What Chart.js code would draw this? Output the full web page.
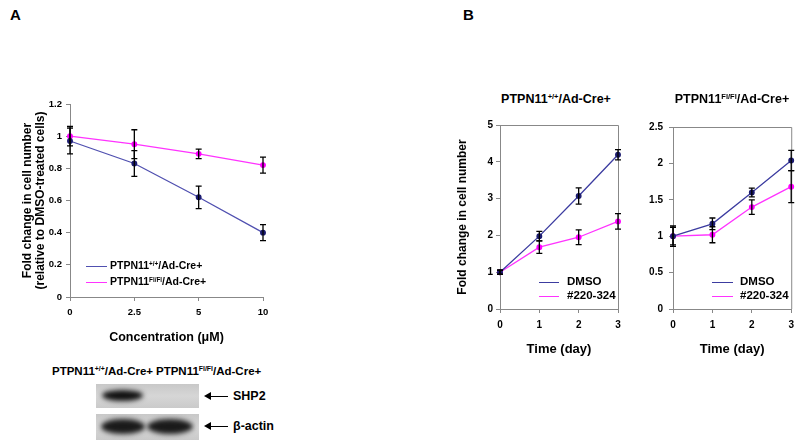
<!DOCTYPE html>
<html>
<head>
<meta charset="utf-8">
<script src="https://cdn.jsdelivr.net/npm/chart.js"></script>
<style>
  body { margin: 0; width: 800px; height: 446px; background: #fff; position: relative; overflow: hidden;
         font-family: 'Liberation Sans', Arial, sans-serif; font-weight: bold; color: #000; }
  canvas, .abs { position: absolute; }
  .abs { white-space: nowrap; line-height: 1; }
  sup { font-size: 0.6em; vertical-align: 0; position: relative; top: -0.55em; }
  .panel { font-size: 15px; }
  .ptitle { font-size: 12.5px; transform: translateX(-50%); }
  .leg { font-size: 11.5px; }
  .leg i { position: absolute; height: 0; border-top: 1.5px solid; }
  .blotlbl { font-size: 11.5px; }
  .box { position: absolute; background: linear-gradient(#c8c8c8, #d6d6d6 50%, #cacaca); overflow: hidden; }
  .band { position: absolute; border-radius: 50%; background: #111; filter: blur(2.5px); }
  .arrow { position: absolute; height: 0; border-top: 1.5px solid #000; }
  .arrow:before { content: ''; position: absolute; left: -2px; top: -5.5px; border-right: 7px solid #000;
                  border-top: 4.5px solid transparent; border-bottom: 4.5px solid transparent; }
  .marker { font-size: 12.5px; }
</style>
</head>
<body>

<div class="abs panel" style="left:10px; top:7px;">A</div>
<div class="abs panel" style="left:463px; top:7px;">B</div>

<canvas id="chartA" width="300" height="265" style="left:0; top:90px;"></canvas>
<canvas id="chartB1" width="200" height="245" style="left:430px; top:115px;"></canvas>
<canvas id="chartB2" width="190" height="245" style="left:610px; top:115px;"></canvas>

<div class="abs ptitle" style="left:556px; top:93px;">PTPN11<sup>+/+</sup>/Ad-Cre+</div>
<div class="abs ptitle" style="left:732px; top:93px;">PTPN11<sup>Fl/Fl</sup>/Ad-Cre+</div>

<!-- legends -->
<div class="abs leg" style="left:0; top:0; font-size:10.5px;">
  <i style="left:86px; top:266px; width:21px; border-color:#5050b0;"></i>
  <span class="abs" style="left:110px; top:260px;">PTPN11<sup>+/+</sup>/Ad-Cre+</span>
  <i style="left:86px; top:282px; width:21px; border-color:#ff33ff;"></i>
  <span class="abs" style="left:110px; top:276px;">PTPN11<sup>Fl/Fl</sup>/Ad-Cre+</span>
</div>
<div class="abs leg" style="left:0; top:0;">
  <i style="left:539px; top:282px; width:20px; border-color:#3c3ca0;"></i>
  <span class="abs" style="left:567px; top:276px;">DMSO</span>
  <i style="left:539px; top:296px; width:20px; border-color:#ff33ff;"></i>
  <span class="abs" style="left:567px; top:290px;">#220-324</span>
  <i style="left:712px; top:282px; width:21px; border-color:#3c3ca0;"></i>
  <span class="abs" style="left:740px; top:276px;">DMSO</span>
  <i style="left:712px; top:296px; width:21px; border-color:#ff33ff;"></i>
  <span class="abs" style="left:740px; top:290px;">#220-324</span>
</div>

<!-- western blot -->
<div class="abs blotlbl" style="left:52px; top:366px;">PTPN11<sup>+/+</sup>/Ad-Cre+</div>
<div class="abs blotlbl" style="left:156px; top:366px;">PTPN11<sup>Fl/Fl</sup>/Ad-Cre+</div>
<div class="box" style="left:96px; top:384px; width:103px; height:24px;">
  <div class="band" style="left:6px; top:6px; width:41px; height:11px;"></div>
</div>
<div class="box" style="left:96px; top:414px; width:103px; height:26px;">
  <div class="band" style="left:5px; top:5px; width:44px; height:15px; background:#1a1a1a;"></div>
  <div class="band" style="left:51px; top:5px; width:46px; height:15px; background:#1a1a1a;"></div>
</div>
<div class="arrow" style="left:206px; top:396px; width:22px;"></div>
<div class="abs marker" style="left:233px; top:390px;">SHP2</div>
<div class="arrow" style="left:206px; top:426px; width:22px;"></div>
<div class="abs marker" style="left:233px; top:420px;">β-actin</div>

<script>
    // panel A: cell number vs inhibitor concentration
    var concLabels = ['0', '2.5', '5', '10'];
    var wtConc = [0.97, 0.83, 0.62, 0.40];
    var wtConcErr = [0.08, 0.08, 0.07, 0.05];
    var flConc = [1.00, 0.95, 0.89, 0.82];
    var flConcErr = [0.06, 0.09, 0.03, 0.05];

    // panel B: growth over time
    var dayLabels = ['0', '1', '2', '3'];
    var wtDmso = [1.00, 1.98, 3.07, 4.19];
    var wtDmsoErr = [0.05, 0.13, 0.22, 0.14];
    var wtDrug = [1.00, 1.68, 1.95, 2.38];
    var wtDrugErr = [0.06, 0.17, 0.20, 0.21];
    var flDmso = [1.00, 1.17, 1.60, 2.04];
    var flDmsoErr = [0.14, 0.08, 0.06, 0.14];
    var flDrug = [1.00, 1.02, 1.40, 1.68];
    var flDrugErr = [0.12, 0.11, 0.10, 0.22];

    Chart.defaults.font.family = "'Liberation Sans', Arial, sans-serif";
    Chart.defaults.font.weight = 'bold';
    Chart.defaults.color = '#000';

    // draws the error bars from each dataset's errors array
    var errorBars = {
        id: 'errorBars',
        afterDatasetsDraw: function (chart) {
            var ctx = chart.ctx;
            var y = chart.scales.y;
            ctx.save();
            ctx.strokeStyle = '#000';
            ctx.lineWidth = 1.3;
            chart.data.datasets.forEach(function (ds, i) {
                chart.getDatasetMeta(i).data.forEach(function (pt, j) {
                    var top = y.getPixelForValue(ds.data[j] + ds.errors[j]);
                    var bot = y.getPixelForValue(ds.data[j] - ds.errors[j]);
                    ctx.beginPath();
                    ctx.moveTo(pt.x, top); ctx.lineTo(pt.x, bot);
                    ctx.moveTo(pt.x - 3, top); ctx.lineTo(pt.x + 3, top);
                    ctx.moveTo(pt.x - 3, bot); ctx.lineTo(pt.x + 3, bot);
                    ctx.stroke();
                });
            });
            ctx.restore();
        }
    };

    // top and right edges of the plot box (panel B)
    var frame = {
        id: 'frame',
        beforeDatasetsDraw: function (chart) {
            var a = chart.chartArea, ctx = chart.ctx;
            ctx.save();
            ctx.strokeStyle = '#888';
            ctx.lineWidth = 1;
            ctx.beginPath();
            ctx.moveTo(a.left, a.top + 0.5);
            ctx.lineTo(a.right + 0.5, a.top + 0.5);
            ctx.lineTo(a.right + 0.5, a.bottom);
            ctx.stroke();
            ctx.restore();
        }
    };

    function series(label, data, errors, line, point) {
        return {
            label: label, data: data, errors: errors,
            borderColor: line, borderWidth: 1.3,
            pointBackgroundColor: point, pointBorderColor: point,
            pointRadius: 2.3, tension: 0
        };
    }

    function tickText(v) { return String(+v.toFixed(2)); }

    function makeChart(id, labels, datasets, o) {
        return new Chart(document.getElementById(id).getContext('2d'), {
            type: 'line',
            data: { labels: labels, datasets: datasets },
            plugins: o.box ? [errorBars, frame] : [errorBars],
            options: {
                responsive: false,
                animation: false,
                devicePixelRatio: 1,
                layout: { padding: { left: 0, top: o.top, right: o.right, bottom: 0 } },
                plugins: { legend: { display: false }, tooltip: { enabled: false } },
                scales: {
                    x: {
                        offset: false,
                        grid: { drawOnChartArea: false, offset: false, tickLength: 4, color: '#888' },
                        border: { color: '#888' },
                        ticks: { font: { size: o.tickSize }, padding: o.xPad, maxRotation: 0 },
                        title: { display: true, text: o.xTitle, font: { size: o.xTitleSize }, padding: { top: 0, bottom: o.xTitlePad } },
                        afterFit: function (s) { s.height = o.xHeight; }
                    },
                    y: {
                        min: 0, max: o.yMax,
                        grid: { drawOnChartArea: false, tickLength: 4, color: '#888' },
                        border: { color: '#888' },
                        ticks: { stepSize: o.yStep, font: { size: o.tickSize }, padding: o.yPad, callback: tickText },
                        title: { display: !!o.yTitle, text: o.yTitle, font: { size: 12, lineHeight: 1.1 }, padding: { top: o.yTitlePad, bottom: 0 } },
                        afterFit: function (s) { s.width = o.yWidth; }
                    }
                }
            }
        });
    }

    makeChart('chartA', concLabels, [
        series('PTPN11+/+/Ad-Cre+', wtConc, wtConcErr, '#5050b0', '#1c1c70'),
        series('PTPN11Fl/Fl/Ad-Cre+', flConc, flConcErr, '#ff33ff', '#ff00ff')
    ], {
        top: 14, right: 37, yMax: 1.2, yStep: 0.2, tickSize: 9.5,
        xPad: 6, yPad: 4, xHeight: 58, yWidth: 70,
        xTitle: 'Concentration (\u03bcM)', xTitleSize: 12.5, xTitlePad: 10,
        yTitle: ['Fold change in cell number', '(relative to DMSO-treated cells)'], yTitlePad: 21
    });

    makeChart('chartB1', dayLabels, [
        series('DMSO', wtDmso, wtDmsoErr, '#3c3ca0', '#1c1c70'),
        series('#220-324', wtDrug, wtDrugErr, '#ff33ff', '#ff00ff')
    ], {
        box: true, top: 10, right: 12, yMax: 5, yStep: 1, tickSize: 10,
        xPad: 6, yPad: 3, xHeight: 51, yWidth: 70,
        xTitle: 'Time (day)', xTitleSize: 13, xTitlePad: 3,
        yTitle: 'Fold change in cell number', yTitlePad: 26
    });

    makeChart('chartB2', dayLabels, [
        series('DMSO', flDmso, flDmsoErr, '#3c3ca0', '#1c1c70'),
        series('#220-324', flDrug, flDrugErr, '#ff33ff', '#ff00ff')
    ], {
        box: true, top: 10, right: 8, yMax: 2.5, yStep: 0.5, tickSize: 10,
        xPad: 6, yPad: 6, xHeight: 51, yWidth: 63,
        xTitle: 'Time (day)', xTitleSize: 13, xTitlePad: 3,
        yTitle: null, yTitlePad: 0
    });
</script>
</body>
</html>
